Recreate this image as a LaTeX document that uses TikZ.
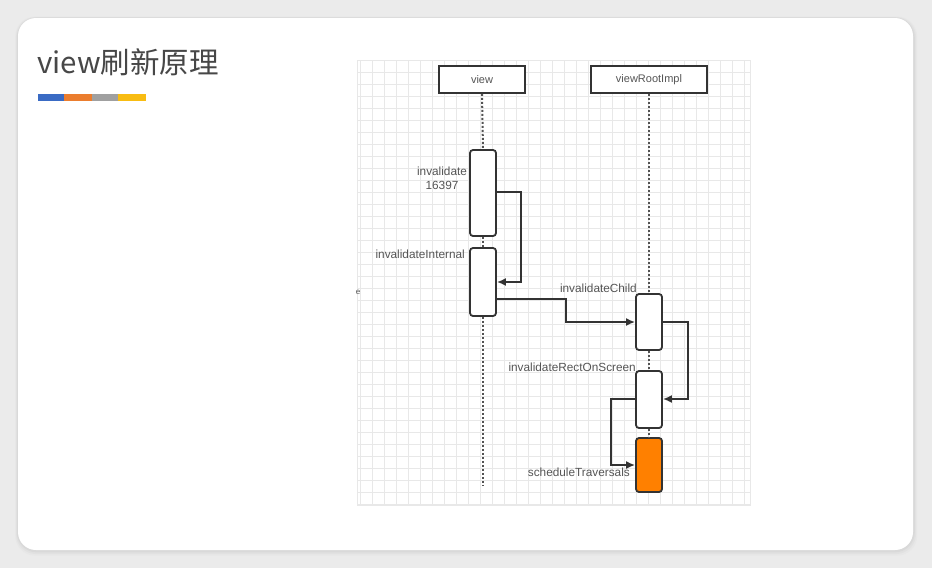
\documentclass[tikz,border=0pt]{standalone}
\usepackage{fontspec}
\setmainfont{Liberation Sans}
\newfontfamily\cjk{Noto Sans CJK SC}
\usetikzlibrary{arrows.meta}
\definecolor{pagebg}{HTML}{EBEBEB}
\definecolor{ink}{HTML}{333333}
\definecolor{txt}{HTML}{555555}
\definecolor{gridc}{HTML}{E8E8E8}
\definecolor{barblue}{HTML}{3A6BC4}
\definecolor{barorange}{HTML}{EB7D2E}
\definecolor{bargray}{HTML}{A0A0A0}
\definecolor{baryellow}{HTML}{F8BC12}
\definecolor{actorange}{HTML}{FF8000}
\tikzset{
  headbox/.style={draw=ink, line width=1.8pt, fill=white, minimum height=27pt, inner sep=0pt, font=\fontsize{11}{13}\selectfont, text=txt},
  actbox/.style={draw=ink, line width=1.8pt, fill=white, rounded corners=3pt, minimum width=26pt, inner sep=0pt},
  lifeline/.style={draw=ink!85, line width=2pt, dotted},
  msg/.style={draw=ink, line width=1.8pt, -{Latex[length=9pt,width=8pt]}},
  lbl/.style={font=\fontsize{11.8}{14}\selectfont, text=txt, inner sep=0pt},
}
\begin{document}
\begin{tikzpicture}[x=1pt,y=-1pt]
\useasboundingbox (0,0) rectangle (932,568);
% page background and card
\fill[pagebg] (0,0) rectangle (932,568);
\foreach \i/\c in {9/92,7/88,5/84,3/80}{
  \fill[black!\the\numexpr 100-\c\relax, opacity=0.35, rounded corners=20pt] (18-\i*0.4,18-\i*0.2) rectangle (913+\i*0.6,550+\i*0.8);
}
\fill[white, rounded corners=18pt] (18,18) rectangle (913,550);
% title
\node[anchor=base west, inner sep=0pt, text=ink!90, font=\cjk\fontsize{29.5}{31}\selectfont] (title) at (37,73) {view刷新原理};
\fill[barblue] (38,94) rectangle (64,101);
\fill[barorange] (64,94) rectangle (92,101);
\fill[bargray] (92,94) rectangle (118,101);
\fill[baryellow] (118,94) rectangle (146,101);
% grid
\begin{scope}
\clip (357,60) rectangle (750,505);
\draw[gridc, line width=0.8pt] (357,60) grid[step=12pt] (750,505);
\end{scope}
\draw[gridc, line width=0.8pt] (357,60) rectangle (750,505);
% heads
\node[headbox, minimum width=86pt] (view) at (482,79.5) {view};
\node[headbox, minimum width=116pt] (vri) at (649,79.5) {viewRootImpl};
% activations
\node[actbox, minimum height=86pt] (a1) at (483,193) {};
\node[actbox, minimum height=68pt] (a2) at (483,282) {};
\node[actbox, minimum height=56pt] (a3) at (649,322) {};
\node[actbox, minimum height=57pt] (a4) at (649,399.5) {};
\node[actbox, minimum height=54pt, fill=actorange] (a5) at (649,465) {};
\coordinate (vend) at (483,485);
% lifelines
\draw[lifeline] (view.south) -- (a1.north);
\draw[lifeline] (a1.south) -- (a2.north);
\draw[lifeline] (a2.south) -- (vend);
\draw[lifeline] (vri.south) -- (a3.north);
\draw[lifeline] (a3.south) -- (a4.north);
\draw[lifeline] (a4.south) -- (a5.north);
% messages
\draw[msg] (a1.east |- 0,192) -- (521,192) -- (521,282) -- (a2.east |- 0,282);
\draw[msg] (a2.east |- 0,299) -- (566,299) -- (566,322) -- (a3.west |- 0,322);
\draw[msg] (a3.east |- 0,322) -- (688,322) -- (688,399) -- (a4.east |- 0,399);
\draw[msg] (a4.west |- 0,399) -- (611,399) -- (611,465) -- (a5.west |- 0,465);
% labels
\node[lbl, align=center] (l1) at (442,178) {invalidate\\16397};
\node[lbl, anchor=east] (l2) at (465,254) {invalidateInternal};
\node[lbl, anchor=east] (l3) at (637,288) {invalidateChild};
\node[lbl, anchor=east] (l4) at (636,367) {invalidateRectOnScreen};
\node[lbl, anchor=east] (l5) at (630,472) {scheduleTraversals};
\node[lbl, font=\fontsize{8}{9}\selectfont] (l6) at (358,292) {e};
\end{tikzpicture}
\end{document}
